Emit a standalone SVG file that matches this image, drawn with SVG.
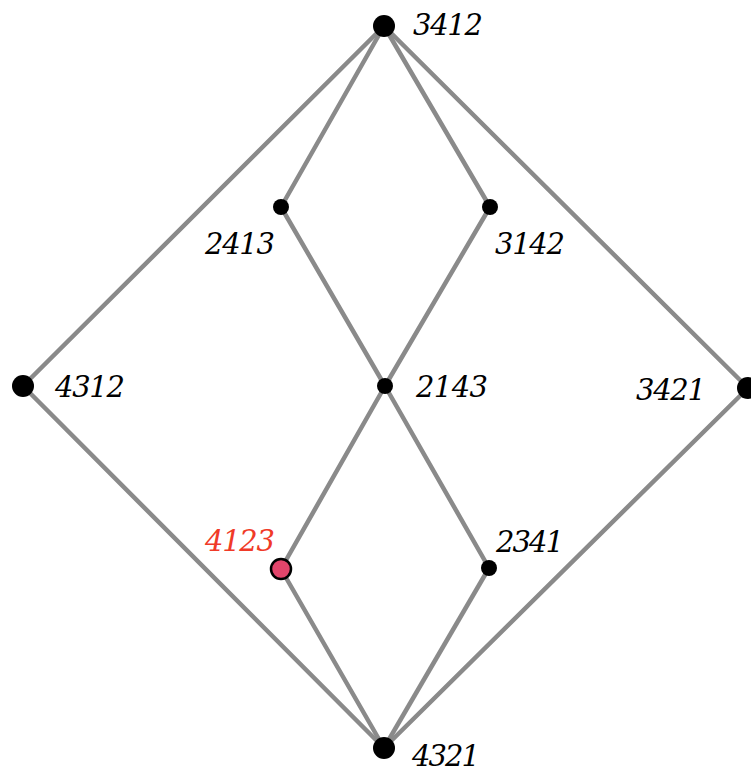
<svg xmlns="http://www.w3.org/2000/svg" width="751" height="772" viewBox="0 0 751 772">
<style>
.e{stroke:#8a8a8a;stroke-width:4.5;fill:none;stroke-linecap:round}
.n{fill:#000}
.t{font-family:"DejaVu Serif","Liberation Serif",serif;font-style:italic;font-size:29px;fill:#000}
.r{fill:#f03a28}
</style>
<rect width="751" height="772" fill="#fff"/>
<g id="edges">
<line class="e" x1="384" y1="26" x2="23" y2="386"/>
<line class="e" x1="384" y1="26" x2="281" y2="207"/>
<line class="e" x1="384" y1="26" x2="490" y2="207"/>
<line class="e" x1="384" y1="26" x2="748" y2="388"/>
<line class="e" x1="281" y1="207" x2="385" y2="386"/>
<line class="e" x1="490" y1="207" x2="385" y2="386"/>
<line class="e" x1="385" y1="386" x2="281" y2="569"/>
<line class="e" x1="385" y1="386" x2="489" y2="568"/>
<line class="e" x1="23" y1="386" x2="384" y2="748"/>
<line class="e" x1="281" y1="569" x2="384" y2="748"/>
<line class="e" x1="489" y1="568" x2="384" y2="748"/>
<line class="e" x1="748" y1="388" x2="384" y2="748"/>
</g>
<g id="n3412"><circle class="n" cx="384" cy="26" r="11"/><text class="t" x="413" y="35" textLength="70">3412</text></g>
<g id="n2413"><circle class="n" cx="281" cy="207" r="8"/><text class="t" x="205" y="254" textLength="70">2413</text></g>
<g id="n3142"><circle class="n" cx="490" cy="207" r="8"/><text class="t" x="495" y="254" textLength="70">3142</text></g>
<g id="n4312"><circle class="n" cx="23" cy="386" r="11"/><text class="t" x="55" y="397" textLength="70">4312</text></g>
<g id="n2143"><circle class="n" cx="385" cy="386" r="8"/><text class="t" x="416" y="397" textLength="72">2143</text></g>
<g id="n3421"><circle class="n" cx="748" cy="388" r="11"/><text class="t" x="636" y="400" textLength="70">3421</text></g>
<g id="n4123"><circle cx="281" cy="569" r="10" fill="#e2456b" stroke="#000" stroke-width="2.5"/><text class="t r" x="205" y="551" textLength="70">4123</text></g>
<g id="n2341"><circle class="n" cx="489" cy="568" r="8"/><text class="t" x="496" y="552" textLength="68">2341</text></g>
<g id="n4321"><circle class="n" cx="384" cy="748" r="11"/><text class="t" x="412" y="766" textLength="68">4321</text></g>
</svg>
